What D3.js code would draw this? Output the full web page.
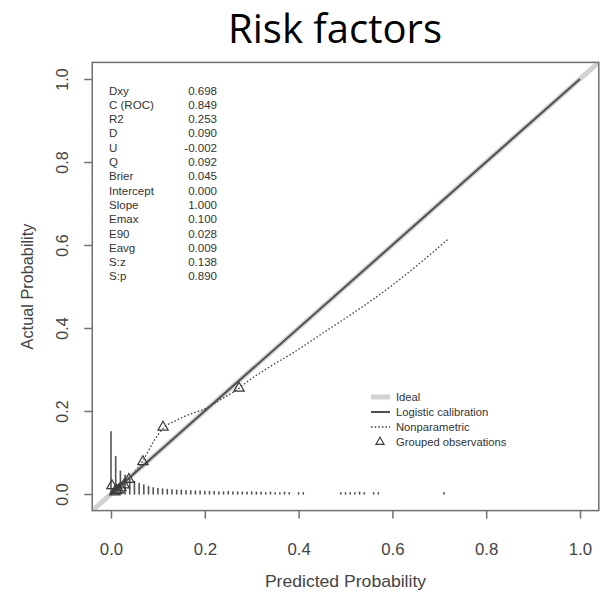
<!DOCTYPE html>
<html><head><meta charset="utf-8">
<script src="https://cdn.jsdelivr.net/npm/d3@7"></script>
<style>html,body{margin:0;padding:0;background:#fff;}svg{display:block;}</style>
</head><body>
<script>
// ---- data ----
const titleText = "Risk factors";
const xTicks = [0, 0.2, 0.4, 0.6, 0.8, 1.0];
const yTicks = [0, 0.2, 0.4, 0.6, 0.8, 1.0];
const xLabel = "Predicted Probability";
const yLabel = "Actual Probability";
const statNames = ["Dxy","C (ROC)","R2","D","U","Q","Brier","Intercept","Slope","Emax","E90","Eavg","S:z","S:p"];
const statValues = ["0.698","0.849","0.253","0.090","-0.002","0.092","0.045","0.000","1.000","0.100","0.028","0.009","0.138","0.890"];
const legendLabels = ["Ideal","Logistic calibration","Nonparametric","Grouped observations"];
const logisticX = [0.0, 1.0];
const logisticY = [0.0, 1.0];
const nonparX = [0.001,0.01,0.02,0.03,0.045,0.068,0.09,0.111,0.14,0.17,0.196,0.23,0.273,0.29,0.345,0.388,0.452,0.51,0.595,0.719];
const nonparY = [0.003,0.008,0.015,0.025,0.045,0.08,0.125,0.158,0.178,0.193,0.203,0.225,0.255,0.27,0.311,0.34,0.388,0.431,0.499,0.614];
const groupX = [0.002,0.008,0.012,0.016,0.021,0.028,0.038,0.068,0.111,0.273];
const groupY = [0.02,0.005,0.008,0.010,0.015,0.022,0.035,0.078,0.161,0.255];
const spikeX = [0.00,0.01,0.02,0.03,0.04,0.05,0.06,0.07,0.08,0.09,0.10,0.11,0.12,0.13,0.14,0.15,0.16,0.17,0.18,0.19,0.20,0.21,0.22,0.23,0.24,0.25,0.26,0.27,0.28,0.29,0.30,0.31,0.32,0.33,0.34,0.35,0.36,0.37,0.38,0.40,0.41,0.49,0.50,0.51,0.52,0.53,0.54,0.56,0.57,0.71];
const spikeH = [0.15,0.09,0.055,0.045,0.035,0.03,0.025,0.022,0.018,0.015,0.013,0.012,0.011,0.010,0.009,0.009,0.008,0.008,0.007,0.007,0.006,0.006,0.006,0.005,0.005,0.006,0.005,0.005,0.004,0.004,0.005,0.004,0.004,0.003,0.004,0.003,0.003,0.004,0.003,0.003,0.003,0.003,0.003,0.003,0.003,0.004,0.003,0.003,0.003,0.003];

// ---- layout ----
const W = 605, H = 597;
const x = d3.scaleLinear().domain([0,1]).range([111,580]);
const y = d3.scaleLinear().domain([0,1]).range([494,79]);
const xd = [-0.04, 1.04], yd = [-0.04, 1.04];
const fam = "'Liberation Sans', Arial, sans-serif";
const txtCol = "#3a3a3a";

const svg = d3.select("body").append("svg").attr("width", W).attr("height", H);

function hText(g, px, py, str, size, sx, anchor, col, family) {
  return g.append("text")
    .attr("transform", `translate(${px},${py}) scale(${sx},1)`)
    .attr("text-anchor", anchor || "start")
    .attr("font-family", family || fam)
    .attr("font-size", size)
    .attr("fill", col || txtCol)
    .text(str);
}

// title
const t = hText(svg, 335, 43, titleText, 36, 1, "middle", "#000", "'Open Sans', Lato, sans-serif");
const tl = t.node().getComputedTextLength();
t.attr("font-size", 36 * 214 / tl);

// clip
svg.append("defs").append("clipPath").attr("id","clip").append("rect")
  .attr("x", x(xd[0])).attr("y", y(yd[1]))
  .attr("width", x(xd[1]) - x(xd[0])).attr("height", y(yd[0]) - y(yd[1]));

const plot = svg.append("g").attr("clip-path","url(#clip)");

// ideal line (abline)
plot.append("line")
  .attr("x1", x(xd[0])).attr("y1", y(xd[0]))
  .attr("x2", x(xd[1])).attr("y2", y(xd[1]))
  .attr("stroke", "#d2d2d2").attr("stroke-width", 5);

// spikes
plot.selectAll("line.spike").data(spikeX).enter().append("line")
  .attr("class","spike")
  .attr("x1", d => x(d)).attr("x2", d => x(d))
  .attr("y1", y(0)).attr("y2", (d,i) => y(spikeH[i]))
  .attr("stroke", "#555").attr("stroke-width", 1.6).attr("stroke-linecap","round");

// logistic calibration
const line = d3.line().x(d => x(d[0])).y(d => y(d[1]));
plot.append("path").datum(logisticX.map((v,i)=>[v, logisticY[i]]))
  .attr("d", line).attr("fill","none").attr("stroke","#505050").attr("stroke-width",2);

// nonparametric
plot.append("path").datum(nonparX.map((v,i)=>[v, nonparY[i]]))
  .attr("d", d3.line().curve(d3.curveMonotoneX).x(d => x(d[0])).y(d => y(d[1])))
  .attr("fill","none").attr("stroke","#444").attr("stroke-width",1.3).attr("stroke-dasharray","1.6,2");

// grouped observations
const tri = d3.symbol().type(d3.symbolTriangle).size(46);
plot.selectAll("path.grp").data(groupX).enter().append("path")
  .attr("class","grp")
  .attr("transform", (d,i) => `translate(${x(d)},${y(groupY[i])})`)
  .attr("d", tri).attr("fill","none").attr("stroke","#3a3a3a").attr("stroke-width",1.2);

// box
svg.append("rect")
  .attr("x", x(xd[0])).attr("y", y(yd[1]))
  .attr("width", x(xd[1]) - x(xd[0])).attr("height", y(yd[0]) - y(yd[1]))
  .attr("fill","none").attr("stroke","#707070").attr("stroke-width",1.5);

// x axis
const xAxis = d3.axisBottom(x).tickValues(xTicks).tickSize(8).tickFormat(d3.format(".1f"));
const gx = svg.append("g").attr("transform", `translate(0,${y(yd[0])})`).call(xAxis);
gx.select(".domain").remove();
gx.selectAll(".tick line").attr("stroke","#707070").attr("stroke-width",1.5);
gx.selectAll(".tick text").remove();
gx.selectAll(".tick").each(function(d){
  hText(d3.select(this), 0, 44, d3.format(".1f")(d), 16, 1.05, "middle", "#444");
});

// y axis
const yAxis = d3.axisLeft(y).tickValues(yTicks).tickSize(8);
const gy = svg.append("g").attr("transform", `translate(${x(xd[0])},0)`).call(yAxis);
gy.select(".domain").remove();
gy.selectAll(".tick line").attr("stroke","#707070").attr("stroke-width",1.5);
gy.selectAll(".tick text").remove();
gy.selectAll(".tick").append("text")
  .attr("transform", `translate(${68 - x(xd[0])},0) rotate(-90)`)
  .attr("text-anchor","middle").attr("font-family", fam).attr("font-size", 16).attr("fill","#444")
  .text(d => d3.format(".1f")(d));

// axis titles
hText(svg, (x(xd[0]) + x(xd[1]))/2, 587, xLabel, 16, 1.1, "middle", "#444");
svg.append("text")
  .attr("transform", `translate(33,${(y(yd[0]) + y(yd[1]))/2}) rotate(-90)`)
  .attr("text-anchor","middle").attr("font-family", fam).attr("font-size", 16.3).attr("fill","#444")
  .text(yLabel);

// stats table
const st = svg.append("g");
statNames.forEach((n,i) => {
  const yy = 94.5 + i * 14.3;
  hText(st, 109, yy, n, 10.5, 1.1, "start", "#333");
  hText(st, 217, yy, statValues[i], 10.5, 1.1, "end", "#333");
});

// legend
const lg = svg.append("g");
const ly = [397, 412, 427, 442];
lg.append("line").attr("x1",371).attr("x2",390).attr("y1",ly[0]).attr("y2",ly[0])
  .attr("stroke","#d2d2d2").attr("stroke-width",5);
lg.append("line").attr("x1",371).attr("x2",390).attr("y1",ly[1]).attr("y2",ly[1])
  .attr("stroke","#505050").attr("stroke-width",2);
lg.append("line").attr("x1",371).attr("x2",390).attr("y1",ly[2]).attr("y2",ly[2])
  .attr("stroke","#444").attr("stroke-width",1.3).attr("stroke-dasharray","1.6,2");
lg.append("path").attr("transform",`translate(380,${ly[3]})`).attr("d", d3.symbol().type(d3.symbolTriangle).size(30))
  .attr("fill","none").attr("stroke","#3a3a3a").attr("stroke-width",1.1);
legendLabels.forEach((s,i) => hText(lg, 396, ly[i] + 4, s, 10.5, 1.07, "start", "#333"));
</script>
</body></html>
